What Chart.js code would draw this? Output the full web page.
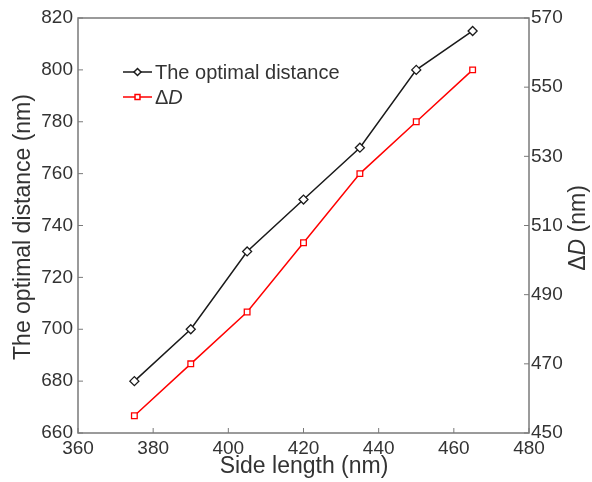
<!DOCTYPE html>
<html>
<head>
<meta charset="utf-8">
<script src="https://cdn.jsdelivr.net/npm/chart.js@4/dist/chart.umd.min.js"></script>
<style>
  html, body { margin: 0; padding: 0; background: #fff; }
  #wrap { width: 592px; height: 482px; }
</style>
</head>
<body>
<div id="wrap"><canvas id="chart" width="592" height="482"></canvas></div>
<script>
// Data
const sideLength = [375, 390, 405, 420, 435, 450, 465];
const optimalDistance = [680, 700, 730, 750, 770, 800, 815];
const deltaD = [455, 470, 485, 505, 525, 540, 555];

const FONT = '"Liberation Sans", Arial, sans-serif';
const AXIS_COLOR = "#7a7a7a";
const TEXT_COLOR = "#333";

const toPoints = (xs, ys) => xs.map((x, i) => ({ x: x, y: ys[i] }));

// Frame, inward ticks, axis titles and legend
const decorations = {
  id: "decorations",
  afterDraw(chart) {
    const ctx = chart.ctx;
    const a = chart.chartArea;
    const sx = chart.scales.x;
    const sy = chart.scales.y;
    const sy2 = chart.scales.y2;

    ctx.save();
    ctx.strokeStyle = AXIS_COLOR;
    ctx.lineWidth = 1.5;
    ctx.strokeRect(a.left, a.top, a.right - a.left, a.bottom - a.top);

    // inward ticks
    ctx.lineWidth = 1;
    ctx.beginPath();
    sx.ticks.forEach((t) => {
      const px = sx.getPixelForValue(t.value);
      ctx.moveTo(px, a.bottom);
      ctx.lineTo(px, a.bottom - 5);
    });
    sy.ticks.forEach((t) => {
      const py = sy.getPixelForValue(t.value);
      ctx.moveTo(a.left, py);
      ctx.lineTo(a.left + 5, py);
    });
    sy2.ticks.forEach((t) => {
      const py = sy2.getPixelForValue(t.value);
      ctx.moveTo(a.right, py);
      ctx.lineTo(a.right - 5, py);
    });
    ctx.stroke();

    // axis titles
    ctx.fillStyle = TEXT_COLOR;
    ctx.textBaseline = "middle";
    ctx.textAlign = "center";
    ctx.font = "23px " + FONT;
    ctx.fillText("Side length (nm)", 304, 467);

    ctx.save();
    ctx.translate(24, 227);
    ctx.rotate(-Math.PI / 2);
    ctx.fillText("The optimal distance (nm)", 0, 0);
    ctx.restore();

    // right title: "ΔD (nm)" with italic D
    ctx.save();
    ctx.translate(579, 228);
    ctx.rotate(-Math.PI / 2);
    const p1 = "\u0394", p2 = "D", p3 = " (nm)";
    ctx.font = "23px " + FONT;
    const w1 = ctx.measureText(p1).width;
    const w3 = ctx.measureText(p3).width;
    ctx.font = "italic 23px " + FONT;
    const w2 = ctx.measureText(p2).width;
    let x0 = -(w1 + w2 + w3) / 2;
    ctx.textAlign = "left";
    ctx.font = "23px " + FONT;
    ctx.fillText(p1, x0, 0);
    ctx.font = "italic 23px " + FONT;
    ctx.fillText(p2, x0 + w1, 0);
    ctx.font = "23px " + FONT;
    ctx.fillText(p3, x0 + w1 + w2, 0);
    ctx.restore();

    // legend
    const items = [
      { color: "#1a1a1a", style: "rectRot", y: 72 },
      { color: "#ff0000", style: "rect", y: 97 },
    ];
    items.forEach((it) => {
      ctx.strokeStyle = it.color;
      ctx.lineWidth = 1.5;
      ctx.beginPath();
      ctx.moveTo(123, it.y);
      ctx.lineTo(152, it.y);
      ctx.stroke();
      ctx.fillStyle = "#fff";
      Chart.helpers.drawPoint(ctx, { pointStyle: it.style, radius: 3.5, borderWidth: 1.3 }, 137.5, it.y);
    });
    ctx.fillStyle = TEXT_COLOR;
    ctx.textAlign = "left";
    ctx.font = "20px " + FONT;
    ctx.fillText("The optimal distance", 155, 73);
    ctx.fillText("\u0394", 155, 98);
    const wd = ctx.measureText("\u0394").width;
    ctx.font = "italic 20px " + FONT;
    ctx.fillText("D", 155 + wd, 98);
    ctx.restore();
  },
};

const tickFont = { family: FONT, size: 19 };

new Chart(document.getElementById("chart"), {
  type: "scatter",
  data: {
    datasets: [
      {
        label: "The optimal distance",
        data: toPoints(sideLength, optimalDistance),
        yAxisID: "y",
        showLine: true,
        borderColor: "#1a1a1a",
        borderWidth: 1.5,
        pointStyle: "rectRot",
        pointRadius: 4.5,
        pointBorderWidth: 1.3,
        pointBackgroundColor: "#fff",
        pointBorderColor: "#1a1a1a",
      },
      {
        label: "\u0394D",
        data: toPoints(sideLength, deltaD),
        yAxisID: "y2",
        showLine: true,
        borderColor: "#ff0000",
        borderWidth: 1.5,
        pointStyle: "rect",
        pointRadius: 4,
        pointBorderWidth: 1.3,
        pointBackgroundColor: "#fff",
        pointBorderColor: "#ff0000",
      },
    ],
  },
  options: {
    responsive: false,
    animation: false,
    layout: { padding: { top: 18, left: 0, right: 0, bottom: 0 } },
    plugins: { legend: { display: false }, tooltip: { enabled: false } },
    scales: {
      x: {
        type: "linear",
        min: 360,
        max: 480,
        grid: { display: false, drawTicks: false },
        border: { display: false },
        ticks: { stepSize: 20, font: tickFont, color: TEXT_COLOR, padding: 4, maxRotation: 0 },
        afterFit(scale) { scale.height = 49; },
      },
      y: {
        position: "left",
        min: 660,
        max: 820,
        grid: { display: false, drawTicks: false },
        border: { display: false },
        ticks: { stepSize: 20, font: tickFont, color: TEXT_COLOR, padding: 5 },
        afterFit(scale) { scale.width = 78; },
      },
      y2: {
        position: "right",
        min: 450,
        max: 570,
        grid: { display: false, drawTicks: false },
        border: { display: false },
        ticks: { stepSize: 20, font: tickFont, color: TEXT_COLOR, padding: 2 },
        afterFit(scale) { scale.width = 63; },
      },
    },
  },
  plugins: [decorations],
});
</script>
</body>
</html>
